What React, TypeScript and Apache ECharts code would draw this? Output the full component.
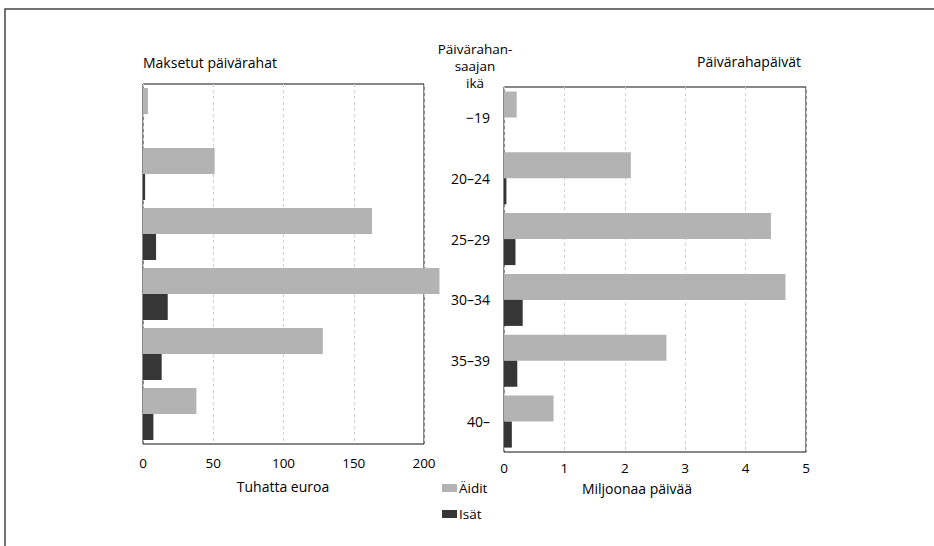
import React, { useEffect, useRef } from "react";
import * as echarts from "echarts";

const ageGroups = ["−19", "20–24", "25–29", "30–34", "35–39", "40–"];
const paidMothers = [3.5, 51, 163, 211, 128, 38];
const paidFathers = [0, 1.5, 9.3, 17.6, 13.3, 7.4];
const daysMothers = [0.21, 2.1, 4.42, 4.66, 2.69, 0.82];
const daysFathers = [0, 0.04, 0.19, 0.31, 0.22, 0.13];
const paidTicks = [0, 50, 100, 150, 200];
const dayTicks = [0, 1, 2, 3, 4, 5];

const FONT = "'Open Sans', 'Noto Sans', sans-serif";
const C_M = "#b3b3b3";
const C_F = "#363636";

export default function App() {
  const ref = useRef<HTMLDivElement>(null);
  useEffect(() => {
    if (!ref.current) return;
    const chart = echarts.init(ref.current, undefined, { renderer: "svg" });
    const txt = { fontFamily: FONT, fontSize: 13.5, color: "#000" };
    const gridCommon = {
      show: true,
      borderColor: "#111",
      borderWidth: 1,
      backgroundColor: "transparent",
    };
    const xCommon = (max: number, interval: number, margin: number) => ({
      type: "value" as const,
      min: 0,
      max,
      interval,
      axisLine: { show: false },
      axisTick: { show: false },
      splitLine: { show: true, lineStyle: { color: "#d0d0d0", type: [3, 3], width: 1 } },
      axisLabel: { ...txt, margin },
    });
    chart.setOption({
      animation: false,
      backgroundColor: "#fff",
      textStyle: { fontFamily: FONT },
      grid: [
        { ...gridCommon, left: 143, top: 84, width: 281, height: 360 },
        { ...gridCommon, left: 504, top: 87, width: 302, height: 365 },
      ],
      xAxis: [
        { ...xCommon(paidTicks[paidTicks.length - 1], paidTicks[1] - paidTicks[0], 12), gridIndex: 0 },
        { ...xCommon(dayTicks[dayTicks.length - 1], dayTicks[1] - dayTicks[0], 9), gridIndex: 1 },
      ],
      yAxis: [
        {
          type: "category",
          gridIndex: 0,
          data: ageGroups,
          inverse: true,
          axisLine: { show: false },
          axisTick: { show: false },
          axisLabel: { show: false },
        },
        {
          type: "category",
          gridIndex: 1,
          data: ageGroups,
          inverse: true,
          axisLine: { show: false },
          axisTick: { show: false },
          axisLabel: { ...txt, fontSize: 14, margin: 14, align: "right", padding: [6, 0, 0, 0] },
        },
      ],
      legend: {
        orient: "vertical",
        left: 437,
        top: 476,
        itemWidth: 15,
        itemHeight: 8,
        itemGap: 12,
        icon: "rect",
        textStyle: { ...txt, fontSize: 13.5, padding: [0, 0, 0, -3] },
        data: ["Äidit", "Isät"],
      },
      series: [
        {
          name: "Äidit",
          type: "bar",
          xAxisIndex: 0,
          yAxisIndex: 0,
          data: paidMothers,
          barWidth: 26,
          barGap: "0%",
          clip: false,
          itemStyle: { color: C_M },
        },
        {
          name: "Isät",
          type: "bar",
          xAxisIndex: 0,
          yAxisIndex: 0,
          data: paidFathers,
          barWidth: 26,
          barGap: "0%",
          itemStyle: { color: C_F },
        },
        {
          name: "Äidit",
          type: "bar",
          xAxisIndex: 1,
          yAxisIndex: 1,
          data: daysMothers,
          barWidth: 26,
          barGap: "0%",
          itemStyle: { color: C_M },
        },
        {
          name: "Isät",
          type: "bar",
          xAxisIndex: 1,
          yAxisIndex: 1,
          data: daysFathers,
          barWidth: 26,
          barGap: "0%",
          itemStyle: { color: C_F },
        },
      ],
      graphic: [
        {
          type: "rect",
          shape: { x: 5, y: 9, width: 940, height: 560 },
          style: { fill: "none", stroke: "#444", lineWidth: 1.5 },
          silent: true,
        },
        {
          type: "text",
          left: 143,
          top: 55,
          style: { text: "Maksetut päivärahat", font: `14px ${FONT}`, fill: "#000" },
        },
        {
          type: "text",
          left: 697,
          top: 54,
          style: { text: "Päivärahapäivät", font: `14px ${FONT}`, fill: "#000" },
        },
        {
          type: "text",
          x: 475,
          y: 40,
          style: {
            text: "Päivärahan-\nsaajan\nikä",
            font: `13.5px ${FONT}`,
            fill: "#000",
            align: "center",
            lineHeight: 17,
          },
        },
        {
          type: "text",
          x: 283,
          y: 479,
          style: { text: "Tuhatta euroa", font: `14px ${FONT}`, fill: "#000", align: "center" },
        },
        {
          type: "text",
          x: 637,
          y: 481,
          style: { text: "Miljoonaa päivää", font: `14px ${FONT}`, fill: "#000", align: "center" },
        },
      ],
    });
    return () => chart.dispose();
  }, []);
  return (
    <div
      ref={ref}
      style={{ position: "fixed", left: 0, top: 0, width: 934, height: 546 }}
    />
  );
}
